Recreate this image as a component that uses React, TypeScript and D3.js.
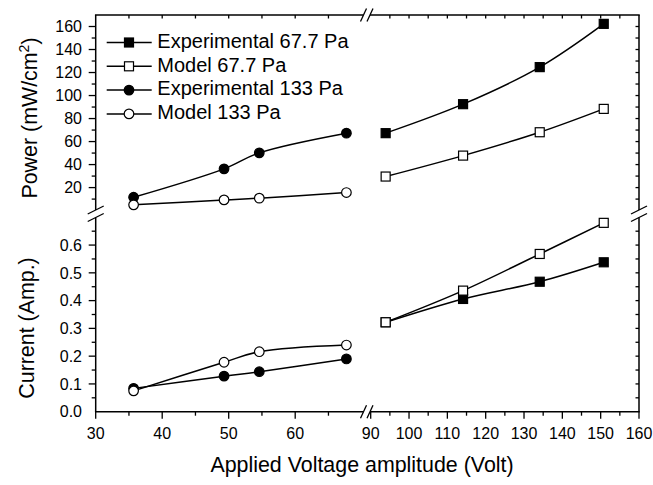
import React from "react";
import * as d3 from "d3";

const voltLow = [35.7, 49.3, 54.6, 67.7];
const voltHigh = [93.9, 114.1, 134.1, 150.8];

const powerExp677 = [67.3, 92.5, 124.7, 162.3];
const powerModel677 = [29.6, 47.8, 68.1, 88.4];
const powerExp133 = [11.6, 36.3, 50.2, 67.3];
const powerModel133 = [5.0, 9.3, 10.8, 15.7];

const currentExp677 = [0.322, 0.406, 0.468, 0.538];
const currentModel677 = [0.322, 0.436, 0.568, 0.68];
const currentExp133 = [0.084, 0.128, 0.144, 0.19];
const currentModel133 = [0.075, 0.178, 0.216, 0.24];

const xTicksLow = [30, 40, 50, 60];
const xMinorLow = [35, 45, 55, 65];
const xTicksHigh = [90, 100, 110, 120, 130, 140, 150, 160];
const xMinorHigh = [95, 105, 115, 125, 135, 145, 155];
const powerTicks = [20, 40, 60, 80, 100, 120, 140, 160];
const powerMinor = [10, 30, 50, 70, 90, 110, 130, 150, 170];
const currentTicks = [0, 0.1, 0.2, 0.3, 0.4, 0.5, 0.6];
const currentMinor = [0.05, 0.15, 0.25, 0.35, 0.45, 0.55, 0.65];

const legendItems = [
  { label: "Experimental 67.7 Pa", shape: "square", filled: true },
  { label: "Model 67.7 Pa", shape: "square", filled: false },
  { label: "Experimental 133 Pa", shape: "circle", filled: true },
  { label: "Model 133 Pa", shape: "circle", filled: false },
];

const FONT = "'Liberation Sans', Arial, Helvetica, sans-serif";

const L = 95.7, R = 639, T = 15, B = 411.7;
const xL = d3.scaleLinear().domain([30, 70]).range([L, 361.7]);
const xR = d3.scaleLinear().domain([90, 160]).range([370.7, R]);
const yT = d3.scaleLinear().domain([0, 170]).range([210.6, T]);
const yB = d3.scaleLinear().domain([0, 0.7]).range([B, 217.3]);

const brkX1 = 363.5, brkX2 = 370;
const brkY1 = 210, brkY2 = 217.5;

function Marker({ x, y, shape, filled }: any) {
  const fill = filled ? "#000" : "#fff";
  if (shape === "square") {
    return <rect x={x - 4.5} y={y - 4.5} width={9} height={9} fill={fill} stroke="#000" strokeWidth={1.2} />;
  }
  return <circle cx={x} cy={y} r={4.8} fill={fill} stroke="#000" strokeWidth={1.2} />;
}

function Series({ xs, ys, xScale, yScale, shape, filled }: any) {
  const pts: [number, number][] = xs.map((v: number, i: number) => [xScale(v), yScale(ys[i])]);
  const line = d3.line().curve(d3.curveCatmullRom.alpha(0.5));
  return (
    <g>
      <path d={line(pts) || ""} fill="none" stroke="#000" strokeWidth={1.5} />
      {pts.map((p, i) => (
        <Marker key={i} x={p[0]} y={p[1]} shape={shape} filled={filled} />
      ))}
    </g>
  );
}

function XSlash({ x, y }: any) {
  return <line x1={x - 3} y1={y + 6.5} x2={x + 3} y2={y - 6.5} stroke="#000" strokeWidth={1.3} />;
}
function YSlash({ x, y }: any) {
  return <line x1={x - 8} y1={y + 4} x2={x + 8} y2={y - 4} stroke="#000" strokeWidth={1.3} />;
}

export default function App() {
  const axisW = 1.5;
  const tickLabel = { fontFamily: FONT, fontSize: 16, fill: "#000" } as any;
  const titleStyle = { fontFamily: FONT, fontSize: 21.4, fill: "#000" } as any;

  return (
    <svg width={653} height={485} style={{ position: "absolute", left: 0, top: 0, background: "#fff" }}>
      <rect x={0} y={0} width={653} height={485} fill="#fff" />

      <g stroke="#000" strokeWidth={axisW} fill="none">
        <line x1={L - 0.75} y1={B} x2={brkX1} y2={B} />
        <line x1={brkX2} y1={B} x2={R + 0.75} y2={B} />
        <line x1={L - 0.75} y1={T} x2={brkX1} y2={T} />
        <line x1={brkX2} y1={T} x2={R + 0.75} y2={T} />
        <line x1={L} y1={T} x2={L} y2={brkY1} />
        <line x1={L} y1={brkY2} x2={L} y2={B} />
        <line x1={R} y1={T} x2={R} y2={brkY1} />
        <line x1={R} y1={brkY2} x2={R} y2={B} />
      </g>

      <XSlash x={brkX1} y={B} />
      <XSlash x={brkX2} y={B} />
      <XSlash x={brkX1} y={T} />
      <XSlash x={brkX2} y={T} />
      <YSlash x={L} y={brkY1} />
      <YSlash x={L} y={brkY2} />
      <YSlash x={R} y={brkY1} />
      <YSlash x={R} y={brkY2} />

      <g stroke="#000" strokeWidth={1.3}>
        {xTicksLow.map((v) => (
          <line key={"bl" + v} x1={xL(v)} y1={B} x2={xL(v)} y2={B + 7} />
        ))}
        {xMinorLow.map((v) => (
          <line key={"blm" + v} x1={xL(v)} y1={B} x2={xL(v)} y2={B + 4} />
        ))}
        {xTicksHigh.map((v) => (
          <line key={"bh" + v} x1={xR(v)} y1={B} x2={xR(v)} y2={B + 7} />
        ))}
        {xMinorHigh.map((v) => (
          <line key={"bhm" + v} x1={xR(v)} y1={B} x2={xR(v)} y2={B + 4} />
        ))}
        {xTicksLow.concat(xMinorLow).filter((v) => v > 30).map((v) => (
          <line key={"tl" + v} x1={xL(v)} y1={T} x2={xL(v)} y2={T + 3.5} />
        ))}
        {xTicksHigh.concat(xMinorHigh).filter((v) => v > 90 && v < 160).map((v) => (
          <line key={"th" + v} x1={xR(v)} y1={T} x2={xR(v)} y2={T + 3.5} />
        ))}
        {powerTicks.map((v) => (
          <line key={"pt" + v} x1={L - 7} y1={yT(v)} x2={L} y2={yT(v)} />
        ))}
        {powerMinor.filter((v) => v < 170).map((v) => (
          <line key={"pm" + v} x1={L - 4} y1={yT(v)} x2={L} y2={yT(v)} />
        ))}
        {currentTicks.filter((v) => v > 0).map((v) => (
          <line key={"ct" + v} x1={L - 7} y1={yB(v)} x2={L} y2={yB(v)} />
        ))}
        {currentMinor.map((v) => (
          <line key={"cm" + v} x1={L - 4} y1={yB(v)} x2={L} y2={yB(v)} />
        ))}
        {powerTicks.concat(powerMinor.filter((v) => v < 170)).map((v) => (
          <line key={"rp" + v} x1={R - 3.5} y1={yT(v)} x2={R} y2={yT(v)} />
        ))}
        {currentTicks.filter((v) => v > 0).concat(currentMinor).map((v) => (
          <line key={"rc" + v} x1={R - 3.5} y1={yB(v)} x2={R} y2={yB(v)} />
        ))}
      </g>

      <g style={tickLabel} textAnchor="middle">
        {xTicksLow.map((v) => (
          <text key={"xl" + v} x={xL(v)} y={439}>{v}</text>
        ))}
        {xTicksHigh.map((v) => (
          <text key={"xh" + v} x={xR(v)} y={439}>{v}</text>
        ))}
      </g>
      <g style={tickLabel} textAnchor="end">
        {powerTicks.map((v) => (
          <text key={"yp" + v} x={82} y={yT(v)} dy="0.36em">{v}</text>
        ))}
        {currentTicks.map((v) => (
          <text key={"yc" + v} x={82} y={yB(v)} dy="0.36em">{d3.format(".1f")(v)}</text>
        ))}
      </g>

      <text style={titleStyle} x={362} y={471.7} textAnchor="middle">Applied Voltage amplitude (Volt)</text>
      <text style={titleStyle} transform="translate(36.5,118) rotate(-90)" textAnchor="middle">
        Power (mW/cm<tspan fontSize={14} dy={-8}>2</tspan><tspan dy={8}>)</tspan>
      </text>
      <text style={titleStyle} transform="translate(33.5,328) rotate(-90)" textAnchor="middle">Current (Amp.)</text>

      <Series xs={voltLow} ys={powerExp133} xScale={xL} yScale={yT} shape="circle" filled={true} />
      <Series xs={voltLow} ys={powerModel133} xScale={xL} yScale={yT} shape="circle" filled={false} />
      <Series xs={voltHigh} ys={powerExp677} xScale={xR} yScale={yT} shape="square" filled={true} />
      <Series xs={voltHigh} ys={powerModel677} xScale={xR} yScale={yT} shape="square" filled={false} />
      <Series xs={voltLow} ys={currentExp133} xScale={xL} yScale={yB} shape="circle" filled={true} />
      <Series xs={voltLow} ys={currentModel133} xScale={xL} yScale={yB} shape="circle" filled={false} />
      <Series xs={voltHigh} ys={currentExp677} xScale={xR} yScale={yB} shape="square" filled={true} />
      <Series xs={voltHigh} ys={currentModel677} xScale={xR} yScale={yB} shape="square" filled={false} />

      {legendItems.map((it, i) => {
        const cy = 42.5 + i * 23.8;
        return (
          <g key={it.label}>
            <line x1={106.7} y1={cy} x2={151.7} y2={cy} stroke="#000" strokeWidth={1.5} />
            <Marker x={129} y={cy} shape={it.shape} filled={it.filled} />
            <text x={157.3} y={cy + 5.3} style={{ fontFamily: FONT, fontSize: 20, fill: "#000" }}>{it.label}</text>
          </g>
        );
      })}
    </svg>
  );
}
